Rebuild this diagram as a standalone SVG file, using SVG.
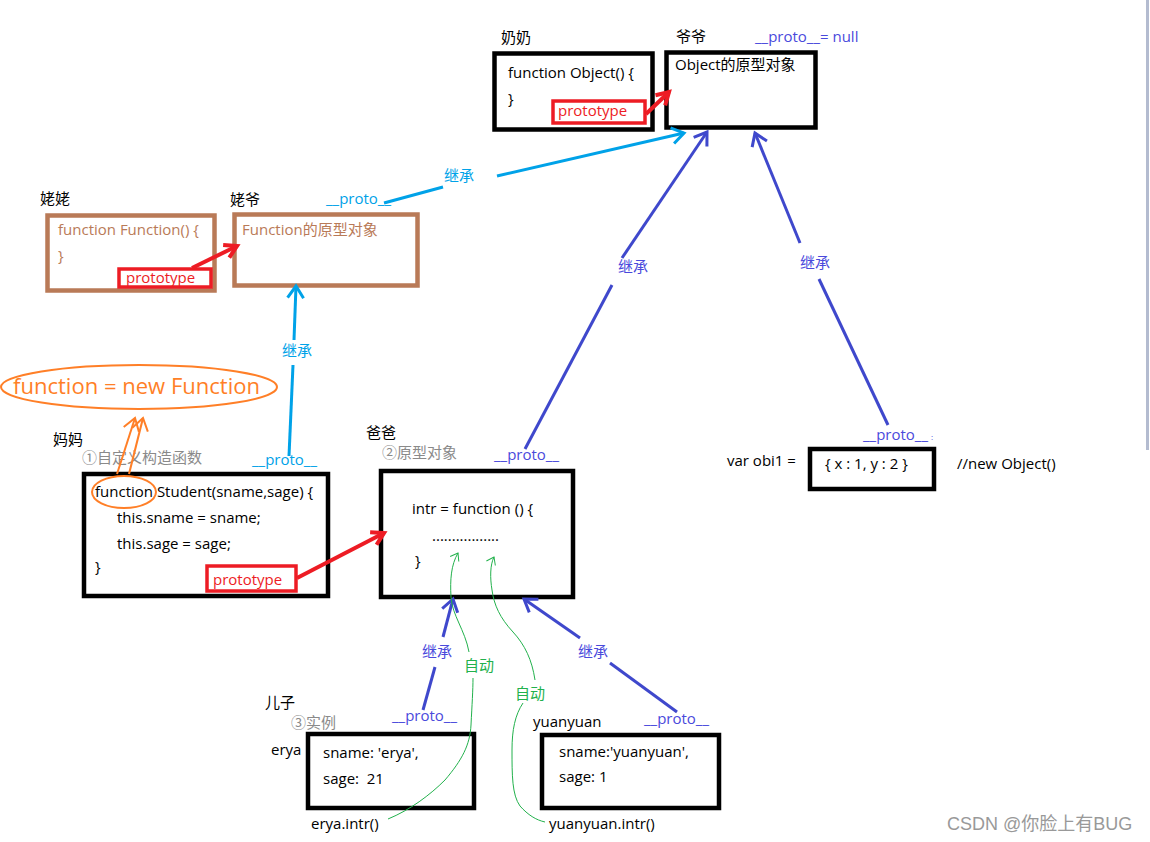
<svg xmlns="http://www.w3.org/2000/svg" width="1150" height="842" viewBox="0 0 1150 842">
<defs>
<style>
text{font-family:"Open Sans","Noto Sans CJK SC",sans-serif;font-size:15px;fill:#000}
.bx{fill:#fff;stroke:#000;stroke-width:4.5}
.br{fill:#fff;stroke:#b97a57;stroke-width:4.5}
.rb{fill:none;stroke:#ed1c24;stroke-width:3.5}
.rt{fill:#ed1c24}
.bt{fill:#b97a57}
.gt{fill:#8a8a8a}
.pt{fill:#4a4adc}
.ct{fill:#00a2e8}
.grt{fill:#22b14c}
.bl{stroke:#3f48cc;stroke-width:3;fill:none}
.cy{stroke:#00a2e8;stroke-width:3;fill:none}
.rd{stroke:#ed1c24;stroke-width:4;fill:none}
.or{stroke:#ff7f27;stroke-width:2;fill:none}
.gr{stroke:#22b14c;stroke-width:1;fill:none}
</style>
<marker id="mb" viewBox="0 0 20 20" refX="16" refY="10" markerWidth="20" markerHeight="20" markerUnits="userSpaceOnUse" orient="auto"><path d="M4,2 L16,10 L4,18" fill="none" stroke="#3f48cc" stroke-width="3"/></marker>
<marker id="mc" viewBox="0 0 20 20" refX="16" refY="10" markerWidth="20" markerHeight="20" markerUnits="userSpaceOnUse" orient="auto"><path d="M4,2 L16,10 L4,18" fill="none" stroke="#00a2e8" stroke-width="3"/></marker>
<marker id="mr" viewBox="0 0 20 20" refX="16" refY="10" markerWidth="20" markerHeight="20" markerUnits="userSpaceOnUse" orient="auto"><path d="M4,3 L16,10 L4,17" fill="none" stroke="#ed1c24" stroke-width="4"/></marker>
<marker id="mo" viewBox="0 0 20 20" refX="16" refY="10" markerWidth="20" markerHeight="20" markerUnits="userSpaceOnUse" orient="auto"><path d="M4,2 L16,10 L4,18" fill="none" stroke="#ff7f27" stroke-width="2"/></marker>
<marker id="mg" viewBox="0 0 12 12" refX="10" refY="6" markerWidth="12" markerHeight="12" markerUnits="userSpaceOnUse" orient="auto"><path d="M3,1 L10,6 L3,11" fill="none" stroke="#22b14c" stroke-width="1"/></marker>
</defs>
<rect width="1150" height="842" fill="#fff"/>
<rect x="1146" y="0" width="3" height="450" fill="#b4bcd0"/>

<g id="nainai">
<text x="501" y="43">奶奶</text>
<rect class="bx" x="494.5" y="53.5" width="158" height="76"/>
<text x="508" y="78">function Object() {</text>
<text x="508" y="104">}</text>
<rect class="rb" x="553" y="101" width="92" height="22"/>
<text class="rt" x="558" y="116">prototype</text>
</g>

<g id="yeye">
<text x="676" y="42">爷爷</text>
<text class="pt" x="755" y="42">__proto__= null</text>
<rect class="bx" x="666.5" y="52.5" width="149" height="75"/>
<text x="675" y="70">Object的原型对象</text>
</g>

<g id="laolao">
<text x="40" y="204">姥姥</text>
<rect class="br" x="47.5" y="215.5" width="167" height="75"/>
<text class="bt" x="58" y="235">function Function() {</text>
<text class="bt" x="58" y="261">}</text>
<rect class="rb" x="119" y="269" width="92" height="18"/>
<text class="rt" x="126" y="283">prototype</text>
</g>

<g id="laoye">
<text x="230" y="205">姥爷</text>
<text class="ct" x="326" y="204">__proto__</text>
<text class="ct" x="444" y="181">继承</text>
<rect class="br" x="234.5" y="214.5" width="183" height="71"/>
<text class="bt" x="242" y="235">Function的原型对象</text>
</g>

<g id="fn-ellipse">
<ellipse class="or" cx="139" cy="387" rx="138" ry="22"/>
<text x="13" y="394" textLength="247" lengthAdjust="spacingAndGlyphs" style="font-size:21px;fill:#ff7f27">function = new Function</text>
</g>

<g id="mama">
<text x="53" y="445">妈妈</text>
<text class="gt" x="82" y="463">①自定义构造函数</text>
<text class="ct" x="252" y="465">__proto__</text>
<text class="ct" x="282" y="356">继承</text>
<rect class="bx" x="84" y="474" width="244" height="122"/>
<text x="95" y="497">function Student(sname,sage) {</text>
<text x="117" y="523">this.sname = sname;</text>
<text x="117" y="549">this.sage = sage;</text>
<text x="95" y="572">}</text>
<ellipse class="or" cx="124" cy="492" rx="32" ry="16"/>
<rect class="rb" x="207" y="566" width="89" height="25"/>
<text class="rt" x="213" y="585">prototype</text>
</g>

<g id="baba">
<text x="366" y="438">爸爸</text>
<text class="gt" x="382" y="458">②原型对象</text>
<text class="pt" x="494" y="460">__proto__</text>
<text class="pt" x="618" y="272">继承</text>
<rect class="bx" x="381" y="471" width="192" height="126"/>
<text x="412" y="514">intr = function () {</text>
<text x="432" y="541">.................</text>
<text x="415" y="566">}</text>
</g>

<g id="obi1">
<text class="pt" x="800" y="268">继承</text>
<text class="pt" x="863" y="440">__proto__</text>
<text class="pt" x="931" y="440" style="font-size:8px">:</text>
<text x="727" y="466">var obi1 =</text>
<rect class="bx" x="810" y="449" width="124" height="40"/>
<text x="825" y="469">{ x : 1, y : 2 }</text>
<text x="957" y="469">//new Object()</text>
</g>

<g id="erya">
<text class="pt" x="422" y="657">继承</text>
<text class="grt" x="464" y="671">自动</text>
<text x="265" y="708">儿子</text>
<text class="gt" x="291" y="728">③实例</text>
<text class="pt" x="392" y="721">__proto__</text>
<text x="271" y="755">erya</text>
<rect class="bx" x="308" y="734" width="166" height="74"/>
<text x="323" y="758">sname: 'erya',</text>
<text x="323" y="784">sage:&#160; 21</text>
<text x="311" y="829">erya.intr()</text>
</g>

<g id="yuanyuan">
<text class="pt" x="578" y="657">继承</text>
<text class="grt" x="515" y="699">自动</text>
<text x="533" y="727">yuanyuan</text>
<text class="pt" x="644" y="724">__proto__</text>
<rect class="bx" x="542" y="735" width="177" height="73"/>
<text x="559" y="757">sname:'yuanyuan',</text>
<text x="559" y="782">sage: 1</text>
<text x="549" y="829">yuanyuan.intr()</text>
</g>

<g id="connectors">
<path class="rd" d="M646,114 L669,92" marker-end="url(#mr)"/>
<path class="rd" d="M192,268 L237,246" marker-end="url(#mr)"/>
<path class="rd" d="M297,578 L384,533" marker-end="url(#mr)"/>
<path class="cy" d="M384,203 L443,187"/>
<path class="cy" d="M497,176 L684,133" marker-end="url(#mc)"/>
<path class="cy" d="M289,456 L293,365"/>
<path class="cy" d="M294,340 L296,286" marker-end="url(#mc)"/>
<path class="bl" d="M525,449 L612,285"/>
<path class="bl" d="M622,258 L707,132" marker-end="url(#mb)"/>
<path class="bl" d="M888,425 L819,279"/>
<path class="bl" d="M800,243 L755,133" marker-end="url(#mb)"/>
<path class="bl" d="M423,710 L435,667"/>
<path class="bl" d="M443,637 L453,599" marker-end="url(#mb)"/>
<path class="bl" d="M677,712 L610,663"/>
<path class="bl" d="M580,638 L524,599" marker-end="url(#mb)"/>
<path class="or" d="M117,474 L135,418" marker-end="url(#mo)"/>
<path class="or" d="M129,474 L143,418" marker-end="url(#mo)"/>
<path class="gr" d="M388,819 C410,810 430,795 445,780 C462,760 470,745 471,725 C472,705 473,690 473,678"/>
<path class="gr" d="M469,652 C465,630 452,615 451,597 C450,580 451,565 458,553" marker-end="url(#mg)"/>
<path class="gr" d="M535,680 C532,660 525,645 513,632 C500,618 494,605 492,590 C490,578 490,565 494,557" marker-end="url(#mg)"/>
<path class="gr" d="M523,703 C515,715 512,730 512,750 C512,775 512,795 520,806 C528,815 536,820 545,822"/>
</g>

<text x="947" y="830" style="font-size:18px;fill:#999;font-family:'Liberation Sans','Noto Sans CJK SC',sans-serif">CSDN @你脸上有BUG</text>
</svg>
